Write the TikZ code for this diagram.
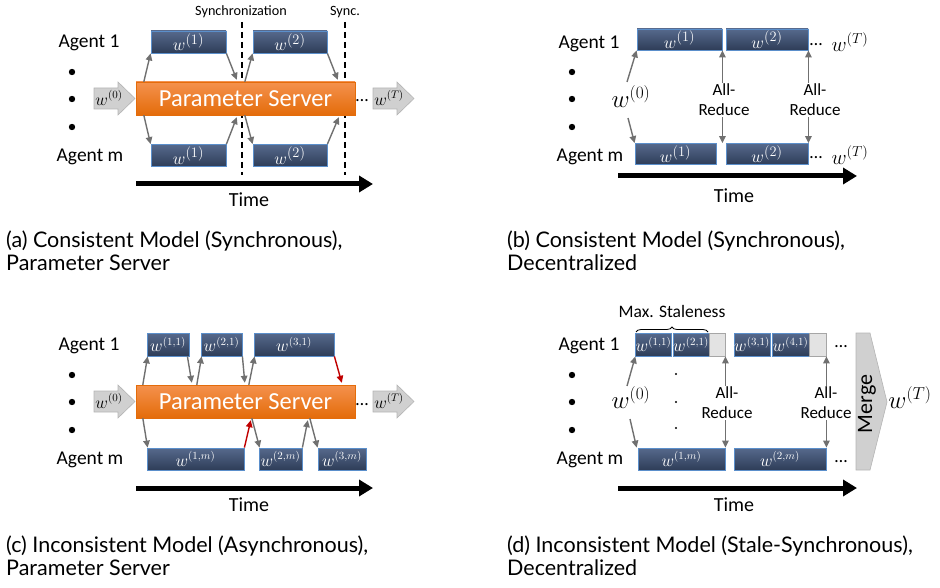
\documentclass[tikz,border=0pt]{standalone}
\usepackage{fontspec}
\setmainfont{Carlito}
\newfontfamily\capfont{Lato}
\usetikzlibrary{arrows.meta,decorations.pathreplacing}

\definecolor{boxtop}{HTML}{56698C}
\definecolor{boxbot}{HTML}{2E3D58}
\definecolor{boxedge}{HTML}{5B8FCB}
\definecolor{pstop}{HTML}{F4914D}
\definecolor{psbot}{HTML}{E46C0A}
\definecolor{conngray}{HTML}{707070}
\definecolor{conred}{HTML}{C00000}
\definecolor{blockgray}{HTML}{D0D0D0}
\definecolor{blockedge}{HTML}{B4B4B4}
\definecolor{stalegray}{HTML}{E3E3E3}

\tikzset{
  wbox/.style={draw=boxedge, line width=0.8pt, top color=boxtop, bottom color=boxbot,
    text=white, minimum height=22pt, inner sep=0pt, font=\fontsize{19}{19}\selectfont},
  swbox/.style={wbox, minimum height=23pt, font=\fontsize{16}{16}\selectfont},
  stale/.style={draw=gray!70, line width=0.8pt, fill=stalegray, minimum height=23pt, inner sep=0pt},
  psbox/.style={top color=pstop, bottom color=psbot, draw=psbot, text=white,
    minimum width=219pt, minimum height=33pt, font=\fontsize{24.5}{24.5}\selectfont},
  agent/.style={font=\fontsize{19.5}{19.5}\selectfont},
  conn/.style={draw=conngray, line width=1.4pt, -{Triangle[length=7pt,width=6.5pt]}},
  redconn/.style={conn, draw=conred},
  dconn/.style={draw=conngray, line width=1.4pt,
    {Triangle[length=7pt,width=6.5pt]}-{Triangle[length=7pt,width=6.5pt]}},
  blockarrow/.style={fill=blockgray, draw=blockedge, line width=0.6pt},
  timearrow/.style={line width=5pt, -{Triangle[length=14pt,width=16pt]}},
  allred/.style={fill=white, align=center, inner sep=1pt, font=\fontsize{17}{20}\selectfont},
  caption/.style={anchor=west, align=left, inner sep=0pt, font=\capfont\fontsize{21.5}{23}\selectfont},
  syncline/.style={line width=1.8pt, dash pattern=on 6pt off 4pt},
}

\begin{document}
\begin{tikzpicture}[x=1pt,y=-1pt]
\useasboundingbox (0,0) rectangle (940,588);

% ---------------- (a) synchronous, parameter server
\node[agent] (a-ag1) at (89,43) {Agent 1};
\node[agent] (a-agm) at (90,157) {Agent m};
\foreach \py in {72,99,127}{
  \fill (72,\py) circle (3.2pt);
}

% sync barriers
\draw[syncline] (242,22) -- (242,175);
\draw[syncline] (345,22) -- (345,175);
\node[font=\fontsize{14.2}{14}\selectfont] (a-sync) at (241,12) {Synchronization};
\node[font=\fontsize{14.2}{14}\selectfont] (a-sync2) at (345,12) {Sync.};

\node[psbox] (a-ps) at (245.5,98.5) {Parameter Server};
\node[wbox, minimum width=75pt] (a-t1) at (188.5,42) {$w^{(1)}$};
\node[wbox, minimum width=74pt] (a-t2) at (290,42) {$w^{(2)}$};
\node[wbox, minimum width=75pt] (a-b1) at (188.5,155.5) {$w^{(1)}$};
\node[wbox, minimum width=74pt] (a-b2) at (290,155.5) {$w^{(2)}$};

\draw[conn] ([xshift=8pt]a-ps.north west) -- (a-t1.south west);
\draw[conn] (a-t1.south east) -- ([xshift=101pt,yshift=2pt]a-ps.north west);
\draw[conn] ([xshift=109pt]a-ps.north west) -- (a-t2.south west);
\draw[conn] (a-t2.south east) -- ([xshift=202pt,yshift=2pt]a-ps.north west);
\draw[conn] ([xshift=8pt]a-ps.south west) -- (a-b1.north west);
\draw[conn] (a-b1.north east) -- ([xshift=101pt,yshift=-2pt]a-ps.south west);
\draw[conn] ([xshift=109pt]a-ps.south west) -- (a-b2.north west);
\draw[conn] (a-b2.north east) -- ([xshift=203pt,yshift=-2pt]a-ps.south west);

\node[anchor=base, font=\fontsize{18}{18}\selectfont] (a-dots) at (362,102) {…};

% block arrows for w0 / wT in (a) and (c)
\foreach \bx/\by in {94/98.5,373/98.5,94/401.5,373/401.5}{
  \draw[blockarrow] (\bx,\by-10.5) -- ++(24,0) -- ++(0,-6) -- (\bx+41,\by)
    -- (\bx+24,\by+16.5) -- ++(0,-6) -- (\bx,\by+10.5) -- cycle;
}
\node[font=\fontsize{16}{16}\selectfont] (a-w0) at (109,98) {$w^{(0)}$};
\node[font=\fontsize{16}{16}\selectfont] (a-wT) at (389,98) {$w^{(T)}$};

\draw[timearrow] (136,184) -- (373,184);
\node[font=\fontsize{20}{20}\selectfont] (a-time) at (249,200) {Time};

% ---------------- (b) synchronous, decentralized
\node[agent] (b-ag1) at (589,44) {Agent 1};
\node[agent] (b-agm) at (590,157) {Agent m};
\foreach \py in {72,99,127}{
  \fill (572,\py) circle (3.2pt);
}
\node[wbox, minimum width=85pt, minimum height=21pt] (b-t1) at (679.5,39.5) {$w^{(1)}$};
\node[wbox, minimum width=82pt, minimum height=21pt] (b-t2) at (767,39.5) {$w^{(2)}$};
\node[wbox, minimum width=81pt, minimum height=21pt] (b-b1) at (675.5,154) {$w^{(1)}$};
\node[wbox, minimum width=82pt, minimum height=21pt] (b-b2) at (767,154) {$w^{(2)}$};

\node[font=\fontsize{26}{26}\selectfont] (b-w0) at (631,97) {$w^{(0)}$};
\coordinate (b-s1) at (627,82);
\coordinate (b-s2) at (628,118);
\draw[conn] (b-s1) -- (b-t1.south west);
\draw[conn] (b-s2) -- (b-b1.north west);

\draw[dconn] (b-t1.south east) -- (b-t1.south east |- b-b1.north);
\draw[dconn] (b-t2.south east) -- (b-t2.south east |- b-b2.north);
\node[allred] (b-ar1) at (724,100) {All-\\Reduce};
\node[allred] (b-ar2) at (815,100) {All-\\Reduce};

\node[anchor=base, font=\fontsize{18}{18}\selectfont] (b-dt1) at (816,46) {…};
\node[anchor=base, font=\fontsize{18}{18}\selectfont] (b-dt2) at (816,159) {…};
\node[font=\fontsize{20}{20}\selectfont] (b-wT1) at (850,42) {$w^{(T)}$};
\node[font=\fontsize{20}{20}\selectfont] (b-wT2) at (850,155) {$w^{(T)}$};

\draw[timearrow] (618,176) -- (857,176);
\node[font=\fontsize{20}{20}\selectfont] (b-time) at (734,196) {Time};

% ---------------- (c) asynchronous, parameter server
\node[agent] (c-ag1) at (89,346) {Agent 1};
\node[agent] (c-agm) at (90,460) {Agent m};
\foreach \py in {375,402,430}{
  \fill (72,\py) circle (3.2pt);
}
\node[psbox] (c-ps) at (245.5,401.5) {Parameter Server};
\node[swbox, minimum width=42pt] (c-t1) at (168,344.5) {$w^{(1,1)}$};
\node[swbox, minimum width=41pt] (c-t2) at (221.5,344.5) {$w^{(2,1)}$};
\node[swbox, minimum width=80pt] (c-t3) at (294,344.5) {$w^{(3,1)}$};
\node[swbox, minimum width=97pt, minimum height=22pt] (c-b1) at (195.5,459) {$w^{(1,m)}$};
\node[swbox, minimum width=43pt, minimum height=22pt] (c-b2) at (280.5,459) {$w^{(2,m)}$};
\node[swbox, minimum width=48pt, minimum height=22pt] (c-b3) at (342,459) {$w^{(3,m)}$};

\draw[conn] ([xshift=7pt]c-ps.north west) -- ([xshift=1pt]c-t1.south west);
\draw[conn] ([xshift=-2pt]c-t1.south east) -- ([xshift=56pt,yshift=2pt]c-ps.north west);
\draw[conn] ([xshift=61pt]c-ps.north west) -- ([xshift=1pt]c-t2.south west);
\draw[conn] (c-t2.south east) -- ([xshift=109pt,yshift=2pt]c-ps.north west);
\draw[conn] ([xshift=113pt]c-ps.north west) -- ([xshift=1pt]c-t3.south west);
\draw[redconn] (c-t3.south east) -- ([xshift=206pt,yshift=2pt]c-ps.north west);
\draw[conn] ([xshift=7pt]c-ps.south west) -- ([xshift=1pt]c-b1.north west);
\draw[redconn] (c-b1.north east) -- ([xshift=115pt,yshift=-2pt]c-ps.south west);
\draw[conn] ([xshift=116pt]c-ps.south west) -- ([xshift=1pt]c-b2.north west);
\draw[conn] (c-b2.north east) -- ([xshift=172pt,yshift=-2pt]c-ps.south west);
\draw[conn] ([xshift=174pt]c-ps.south west) -- (c-b3.north west);

\node[anchor=base, font=\fontsize{18}{18}\selectfont] (c-dots) at (362,405) {…};
\node[font=\fontsize{16}{16}\selectfont] (c-w0) at (109,401) {$w^{(0)}$};
\node[font=\fontsize{16}{16}\selectfont] (c-wT) at (389,401) {$w^{(T)}$};

\draw[timearrow] (136,488) -- (373,488);
\node[font=\fontsize{20}{20}\selectfont] (c-time) at (249,505) {Time};

% ---------------- (d) stale-synchronous, decentralized
\node[agent] (d-ag1) at (589,346) {Agent 1};
\node[agent] (d-agm) at (590,460) {Agent m};
\foreach \py in {375,402,430}{
  \fill (572,\py) circle (3.2pt);
}
\node[font=\fontsize{17.5}{17.5}\selectfont] (d-stale) at (672,311) {Max. Staleness};
\draw[decorate, decoration={brace, amplitude=5pt}, line width=0.8pt] (636,332) -- (708,332);

\node[swbox, minimum width=35pt] (d-t1) at (653.5,344.5) {$w^{(1,1)}$};
\node[swbox, minimum width=36pt] (d-t2) at (691,344.5) {$w^{(2,1)}$};
\node[stale, minimum width=16pt] (d-g1) at (717,344.5) {};
\node[swbox, minimum width=36pt] (d-t3) at (752,344.5) {$w^{(3,1)}$};
\node[swbox, minimum width=37pt] (d-t4) at (790.5,344.5) {$w^{(4,1)}$};
\node[stale, minimum width=17pt] (d-g2) at (817.5,344.5) {};
\node[swbox, minimum width=87pt, minimum height=22pt] (d-b1) at (681.5,459) {$w^{(1,m)}$};
\node[swbox, minimum width=92pt, minimum height=22pt] (d-b2) at (780,459) {$w^{(2,m)}$};

\node[font=\fontsize{26}{26}\selectfont] (d-w0) at (631,398) {$w^{(0)}$};
\coordinate (d-s1) at (627,386);
\coordinate (d-s2) at (630,419);
\draw[conn] (d-s1) -- (d-t1.south west);
\draw[conn] (d-s2) -- ([xshift=-1pt]d-b1.north west);

\foreach \py in {374,402,428}{
  \fill (676,\py) circle (1.1pt);
}

\draw[dconn] (d-g1.south east) -- (d-g1.south east |- d-b1.north);
\draw[dconn] (d-g2.south east) -- (d-g2.south east |- d-b2.north);
\node[allred] (d-ar1) at (727,403) {All-\\Reduce};
\node[allred] (d-ar2) at (826,403) {All-\\Reduce};

\node[anchor=base, font=\fontsize{18}{18}\selectfont] (d-dt1) at (841,347) {…};
\node[anchor=base, font=\fontsize{18}{18}\selectfont] (d-dt2) at (841,462) {…};

\draw[blockarrow] (856,333) -- (870,333) -- (887,402) -- (870,470) -- (856,470) -- cycle;
\node[rotate=90, font=\fontsize{22}{22}\selectfont] (d-merge) at (867,404) {Merge};
\node[font=\fontsize{26}{26}\selectfont] (d-wT) at (910,398) {$w^{(T)}$};

\draw[timearrow] (618,488) -- (857,488);
\node[font=\fontsize{20}{20}\selectfont] (d-time) at (734,505) {Time};

% ---------------- captions
\node[caption] (cap-a) at (6,251) {(a) Consistent Model (Synchronous),\\Parameter Server};
\node[caption] (cap-b) at (507,251) {(b) Consistent Model (Synchronous),\\Decentralized};
\node[caption] (cap-c) at (6,556) {(c) Inconsistent Model (Asynchronous),\\Parameter Server};
\node[caption] (cap-d) at (507,556) {(d) Inconsistent Model (Stale-Synchronous),\\Decentralized};

\end{tikzpicture}
\end{document}
